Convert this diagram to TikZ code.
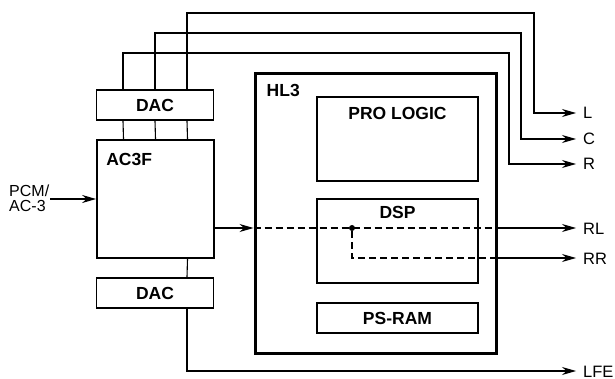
\documentclass[tikz,border=0pt]{standalone}
\usepackage{fontspec}
\setmainfont{Liberation Sans}
\usetikzlibrary{positioning,arrows.meta}

\begin{document}
\begin{tikzpicture}[
  x=1pt, y=-1pt,
  block/.style={draw, line width=1.8pt, inner sep=0pt},
  heavy/.style={draw, line width=3pt, inner sep=0pt},
  title/.style={font=\fontsize{17.5}{19}\selectfont\bfseries, inner sep=0pt},
  sig/.style={font=\fontsize{16.5}{18}\selectfont, inner sep=0pt, anchor=west, text height=12pt, text depth=0pt},
  wire/.style={line width=1.1pt},
  tapdot/.style={circle, fill, inner sep=0pt, minimum size=6pt},
  >={Stealth[length=14pt,width=8pt]}
]
\useasboundingbox (0,0) rectangle (615,379);

% Left chain
\node[block, minimum width=117pt, minimum height=30pt] (dac1) at (155,105) {};
\node[title] at (dac1) {DAC};
\node[block, minimum width=117pt, minimum height=118pt] (ac3f) at (155.5,199) {};
\node[title, below right=14pt and 10pt of ac3f.north west] (ac3ftitle) {AC3F};
\node[block, minimum width=117pt, minimum height=30pt] (dac2) at (155,293) {};
\node[title] at (dac2) {DAC};

% HL3 and its blocks
\node[heavy, minimum width=241pt, minimum height=279pt] (hl3) at (375.5,213.5) {};
\node[title, below right=12pt and 13pt of hl3.north west] (hl3title) {HL3};
\node[block, minimum width=161pt, minimum height=84pt] (prologic) at (397.5,139) {};
\node[title, below=11pt of prologic.north] (prologictitle) {PRO LOGIC};
\node[block, minimum width=161pt, minimum height=84pt] (dsp) at (397.5,241) {};
\node[title, below=8pt of dsp.north] (dsptitle) {DSP};
\node[block, minimum width=161pt, minimum height=30pt] (psram) at (397.5,318) {};
\node[title] at (psram) {PS-RAM};

% Input
\node[align=left, inner sep=1pt, anchor=west, font=\fontsize{16}{15}\selectfont] (pcm) at (8,198) {PCM/\\AC-3};

% Outputs
\node[sig] (l) at (583,113) {L};
\node[sig] (c) at (583,139) {C};
\node[sig] (r) at (583,164) {R};
\node[sig] (rl) at (583,228) {RL};
\node[sig] (rr) at (583,258) {RR};
\node[sig] (lfe) at (583,371) {LFE};

\coordinate (lbend) at (534,13);
\coordinate (cbend) at (521,33);
\coordinate (rbend) at (509,53);
\node[tapdot] (tap) at (352,228) {};

% Connections
\draw[wire, ->] (pcm.east |- ac3f.west) -- (ac3f.west);
\foreach \dx in {-32,0,32}
  \draw[wire] ([xshift=\dx pt]ac3f.north) -- ([xshift=\dx pt]dac1.south);
\draw[wire, ->] ([xshift=32pt]dac1.north) |- (lbend) |- ([xshift=-7pt]l.west);
\draw[wire, ->] (dac1.north) |- (cbend) |- ([xshift=-7pt]c.west);
\draw[wire, ->] ([xshift=-32pt]dac1.north) |- (rbend) |- ([xshift=-7pt]r.west);
\draw[wire] ([xshift=32pt]ac3f.south) -- ([xshift=32pt]dac2.north);
\draw[wire, ->] ([xshift=32pt]dac2.south) |- ([xshift=-7pt]lfe.west);

\draw[wire, ->] (ac3f.east |- tap) -- (hl3.west |- tap);
\draw[wire, dash pattern=on 7pt off 4pt] (hl3.west |- tap) -- (hl3.east |- tap);
\draw[wire, ->] (hl3.east |- tap) -- ([xshift=-7pt]rl.west);
\draw[wire, dash pattern=on 7pt off 4pt] (tap) |- (hl3.east |- rr);
\draw[wire, ->] (hl3.east |- rr) -- ([xshift=-7pt]rr.west);

\end{tikzpicture}
\end{document}
